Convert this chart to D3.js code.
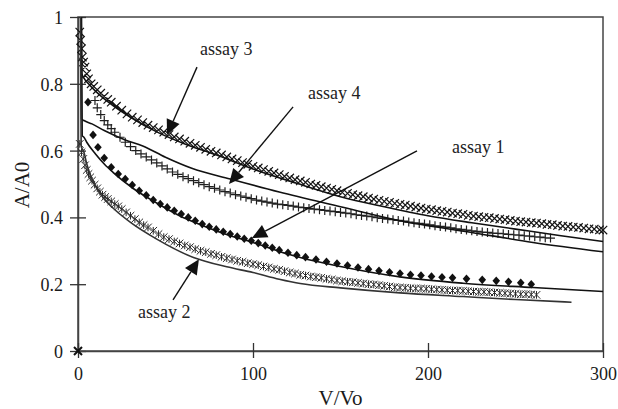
<!DOCTYPE html>
<html><head><meta charset="utf-8">
<script src="https://cdn.jsdelivr.net/npm/d3@7"></script>
<style>body{margin:0;background:#fff}svg{display:block}</style>
</head><body>
<svg id="c" width="618" height="409"></svg>
<script>
// ---- data ----
const xTicks = [0, 100, 200, 300];
const yTicks = [0, 0.2, 0.4, 0.6, 0.8, 1];
const yTickLabels = ["0", "0.2", "0.4", "0.6", "0.8", "1"];

// assay 3 (x markers)
const a3V = [1,1.5,2,2.5,3.2,4,5,6,7.5,9,11,13,15,17,19,22,25,28,31,34,37,40,43,46,49,52,55,58,61,64,67,70,73,76,79,82,85,88,91,94,97,100,103,106,109,112,115,118,121,124,127,130,133,136,139,142,145,148,151,154,157,160,163,166,169,172,175,178,181,184,187,190,193,196,199,202,205,208,211,214,217,220,223,226,229,232,235,238,241,244,247,250,253,256,259,262,265,268,271,274,277,280,283,286,289,292,295,298,300];
const a3A = [0.955,0.93,0.905,0.88,0.865,0.85,0.83,0.815,0.80,0.792,0.782,0.772,0.762,0.753,0.745,0.733,0.721,0.71,0.70,0.692,0.684,0.676,0.669,0.662,0.655,0.648,0.641,0.635,0.628,0.622,0.616,0.61,0.604,0.598,0.593,0.587,0.581,0.575,0.57,0.564,0.559,0.553,0.548,0.543,0.538,0.533,0.528,0.523,0.518,0.513,0.509,0.505,0.50,0.496,0.492,0.488,0.484,0.48,0.475,0.472,0.468,0.465,0.462,0.458,0.455,0.451,0.448,0.445,0.442,0.439,0.437,0.434,0.431,0.428,0.425,0.423,0.42,0.418,0.416,0.413,0.411,0.409,0.406,0.404,0.402,0.40,0.399,0.397,0.395,0.393,0.391,0.389,0.387,0.386,0.384,0.383,0.381,0.379,0.378,0.376,0.374,0.373,0.371,0.37,0.368,0.366,0.365,0.363,0.362];

// assay 4 (+ markers)
const a4V = [9.7,11,13,15,17,19,21,24,27,30,33,36,39,42,45,48,51,54,57,60,63,66,69,72,75,78,81,84,87,90,93,96,99,102,105,108,111,114,117,120,123,126,129,132,135,138,141,144,147,150,153,156,159,162,165,168,171,174,177,180,183,186,189,192,195,198,201,204,207,210,213,216,219,222,225,228,231,234,237,240,243,246,249,252,255,258,261,264,267,270];
const a4A = [0.75,0.728,0.708,0.69,0.677,0.666,0.655,0.64,0.625,0.612,0.60,0.59,0.581,0.572,0.563,0.554,0.545,0.536,0.529,0.522,0.516,0.51,0.504,0.498,0.492,0.487,0.482,0.477,0.473,0.468,0.464,0.46,0.456,0.452,0.449,0.446,0.443,0.44,0.438,0.436,0.434,0.431,0.429,0.427,0.425,0.423,0.421,0.419,0.417,0.415,0.413,0.411,0.408,0.406,0.404,0.402,0.399,0.397,0.395,0.393,0.391,0.389,0.386,0.384,0.382,0.38,0.378,0.375,0.373,0.371,0.369,0.366,0.364,0.362,0.36,0.358,0.356,0.355,0.353,0.352,0.351,0.349,0.348,0.347,0.345,0.344,0.342,0.341,0.339,0.338];

// assay 1 (filled diamonds)
const a1V = [5.7,8.6,11.4,15,19,23,27,31,35,39,43,47,51,55,59,63,67,71,75,79,83,87,91,95,99,103,107,111,115,120,125,130,136,142,148,154,160,166,172,178,184,190,196,202,208,214,222,231,239,246,253,259];
const a1A = [0.745,0.647,0.61,0.578,0.55,0.53,0.515,0.497,0.48,0.466,0.452,0.44,0.43,0.42,0.41,0.40,0.39,0.38,0.372,0.364,0.357,0.35,0.343,0.336,0.33,0.323,0.316,0.309,0.302,0.294,0.287,0.281,0.274,0.267,0.262,0.256,0.25,0.245,0.24,0.236,0.232,0.228,0.226,0.223,0.221,0.219,0.216,0.213,0.21,0.207,0.204,0.20];

// assay 2 (asterisk markers)
const a2V = [1,2,3,4,5,6,7,8,9.5,11,12.5,14,15.5,17,19,21,23,25,27.5,30,32.5,35,37.5,40,43,46,49,52,55,58,61,64,67,70,73,76,79,82,85,88,91,94,97,100,103,106,109,112,115,118,121,124,127,130,133,136,139,142,145,148,151,154,157,160,163,166,169,172,175,178,181,184,187,190,193,196,199,202,205,208,211,214,217,220,223,226,229,232,235,238,241,244,247,250,253,256,259,262];
const a2A = [0.62,0.595,0.575,0.556,0.542,0.53,0.52,0.51,0.498,0.487,0.477,0.468,0.461,0.455,0.448,0.44,0.433,0.425,0.415,0.405,0.395,0.385,0.377,0.37,0.36,0.35,0.341,0.335,0.328,0.322,0.316,0.311,0.305,0.30,0.296,0.291,0.287,0.282,0.278,0.274,0.27,0.267,0.263,0.26,0.257,0.253,0.25,0.246,0.243,0.239,0.235,0.232,0.228,0.226,0.223,0.221,0.219,0.216,0.214,0.211,0.209,0.207,0.206,0.204,0.202,0.20,0.199,0.197,0.195,0.193,0.191,0.19,0.189,0.188,0.187,0.187,0.186,0.185,0.184,0.183,0.182,0.181,0.181,0.18,0.179,0.178,0.177,0.177,0.176,0.175,0.174,0.173,0.172,0.171,0.17,0.17,0.169,0.168];

// point at the origin
const originV = [0];
const originA = [0];

// fitted curves (solid lines)
const fit3V = [1.8,2.2,3.4,6,10,15,20,30,45,60,80,100,125,150,175,200,225,250,275,300];
const fit3A = [1.0,0.83,0.817,0.80,0.778,0.755,0.735,0.70,0.656,0.622,0.585,0.545,0.502,0.462,0.432,0.405,0.384,0.365,0.346,0.328];
const fit4V = [1.6,2.0,3.4,8,15,27,37,50,65,87,115,150,184,225,260,300];
const fit4A = [1.0,0.695,0.69,0.68,0.66,0.632,0.614,0.58,0.547,0.515,0.476,0.432,0.39,0.355,0.325,0.297];
const fit1V = [2.0,2.4,3.4,5,10,15,20,32,45,58,70,87,100,115,127,150,184,220,260,300];
const fit1A = [1.0,0.645,0.64,0.625,0.59,0.56,0.535,0.485,0.443,0.405,0.378,0.345,0.325,0.298,0.28,0.253,0.222,0.203,0.19,0.178];
const fit2V = [1.4,1.8,3.4,5,8,11,15,20,30,45,66,85,100,115,127,150,184,220,250,282];
const fit2A = [1.0,0.615,0.595,0.56,0.515,0.485,0.455,0.428,0.385,0.335,0.28,0.252,0.235,0.215,0.202,0.189,0.174,0.163,0.154,0.146];

// annotations: label, label anchor (V, A), arrow start (V, A), arrow tip (V, A)
const annLabels = ["assay 3", "assay 4", "assay 1", "assay 2"];
const annTextV = [69.7, 131.4, 213.7, 34.3];
const annTextA = [0.886, 0.754, 0.593, 0.099];
const annFromV = [68, 122.9, 193.7, 54.3];
const annFromA = [0.850, 0.731, 0.599, 0.153];
const annTipV = [50.9, 86.3, 99.4, 69.1];
const annTipA = [0.647, 0.50, 0.338, 0.275];

// ---- drawing ----
const svg = d3.select("#c");
svg.append("rect").attr("width", 618).attr("height", 409).attr("fill", "#fff");
const L = 78, R = 603, T = 17, B = 351;
const x = d3.scaleLinear().domain([0, 300]).range([L, R]);
const y = d3.scaleLinear().domain([0, 1]).range([B, T]);
const font = "'Liberation Serif', 'Times New Roman', serif";
const ink = "#1a1a1a";

// frame
svg.append("rect").attr("x", L).attr("y", T).attr("width", R - L).attr("height", B - T)
  .attr("fill", "none").attr("stroke", "#444").attr("stroke-width", 1.5);

// axes with ticks crossing the axis line
const yAx = svg.append("g").attr("transform", `translate(${L},0)`)
  .call(d3.axisLeft(y).tickValues(yTicks).tickSizeInner(8).tickSizeOuter(0)
    .tickFormat((d, i) => yTickLabels[i]).tickPadding(7));
yAx.select(".domain").attr("stroke", "#444").attr("stroke-width", 1.5);
yAx.selectAll(".tick line").attr("stroke", "#333").attr("stroke-width", 1.3).attr("x2", 8).attr("x1", -8);
yAx.selectAll(".tick text").attr("font-family", font).attr("font-size", 18).attr("fill", ink)
  .attr("x", -15).attr("dy", "0.36em");

const xAx = svg.append("g").attr("transform", `translate(0,${B})`)
  .call(d3.axisBottom(x).tickValues(xTicks).tickSizeInner(8).tickSizeOuter(0).tickFormat(d3.format("d")));
xAx.select(".domain").attr("stroke", "#444").attr("stroke-width", 1.5);
xAx.selectAll(".tick line").attr("stroke", "#333").attr("stroke-width", 1.3).attr("y1", -8).attr("y2", 7);
xAx.selectAll(".tick text").attr("font-family", font).attr("font-size", 18).attr("fill", ink)
  .attr("y", 16).attr("dy", "0.71em");

// axis titles
svg.append("text").attr("x", (L + R) / 2).attr("y", 405).attr("text-anchor", "middle")
  .attr("font-family", font).attr("font-size", 21).attr("fill", ink).text("V/Vo");
svg.append("text").attr("transform", `translate(29,${(T + B) / 2 + 1}) rotate(-90)`)
  .attr("text-anchor", "middle").attr("font-family", font).attr("font-size", 21).attr("fill", ink).text("A/A0");

const zip = (vs, as) => vs.map((v, i) => [v, as[i]]);
const line = d3.line().x(d => x(d[0])).y(d => y(d[1])).curve(d3.curveMonotoneX);

// markers
const gm = svg.append("g");
// assay 2: asterisk-like crosses (dark grey band)
gm.append("path").attr("fill", "none").attr("stroke", "#2a2a2a").attr("stroke-width", 1.0)
  .attr("d", zip(a2V, a2A).map(d => {
    const cx = x(d[0]), cy = y(d[1]), s = 3.8;
    return `M${cx - s},${cy - s}L${cx + s},${cy + s}M${cx - s},${cy + s}L${cx + s},${cy - s}M${cx},${cy - s}L${cx},${cy + s}`;
  }).join(""));
// assay 1: diamonds
gm.selectAll("path.dm").data(zip(a1V, a1A)).join("path").attr("class", "dm")
  .attr("transform", d => `translate(${x(d[0])},${y(d[1])})`)
  .attr("d", "M0,-4.3L3.8,0L0,4.3L-3.8,0Z").attr("fill", "#111");
// assay 4: plus
gm.append("path").attr("fill", "none").attr("stroke", "#1f1f1f").attr("stroke-width", 1.2)
  .attr("d", zip(a4V, a4A).map(d => {
    const cx = x(d[0]), cy = y(d[1]), s = 4.5;
    return `M${cx - s},${cy}L${cx + s},${cy}M${cx},${cy - s}L${cx},${cy + s}`;
  }).join(""));
// assay 3: x
gm.append("path").attr("fill", "none").attr("stroke", "#141414").attr("stroke-width", 1.2)
  .attr("d", zip(a3V, a3A).map(d => {
    const cx = x(d[0]), cy = y(d[1]), s = 4.2;
    return `M${cx - s},${cy - s}L${cx + s},${cy + s}M${cx - s},${cy + s}L${cx + s},${cy - s}`;
  }).join(""));
// origin point
gm.append("path").attr("fill", "none").attr("stroke", "#111").attr("stroke-width", 2)
  .attr("d", zip(originV, originA).map(d => {
    const cx = x(d[0]), cy = y(d[1]), s = 4;
    return `M${cx - s},${cy - s}L${cx + s},${cy + s}M${cx - s},${cy + s}L${cx + s},${cy - s}`;
  }).join(""));

// fitted lines
[[fit3V, fit3A, "#111"], [fit4V, fit4A, "#111"], [fit1V, fit1A, "#111"], [fit2V, fit2A, "#333"]].forEach(f => {
  svg.append("path").attr("d", line(zip(f[0], f[1]))).attr("fill", "none")
    .attr("stroke", f[2]).attr("stroke-width", 1.6);
});

// annotations
annLabels.forEach((lab, i) => {
  svg.append("text").attr("x", x(annTextV[i])).attr("y", y(annTextA[i]))
    .attr("font-family", font).attr("font-size", 18).attr("fill", "#222").text(lab);
  const x0 = x(annFromV[i]), y0 = y(annFromA[i]), x1 = x(annTipV[i]), y1 = y(annTipA[i]);
  const ang = Math.atan2(y1 - y0, x1 - x0);
  const hl = 15, hw = 7;
  const bx = x1 - hl * Math.cos(ang), by = y1 - hl * Math.sin(ang);
  svg.append("line").attr("x1", x0).attr("y1", y0).attr("x2", bx).attr("y2", by)
    .attr("stroke", "#111").attr("stroke-width", 1.4);
  const px = -Math.sin(ang), py = Math.cos(ang);
  svg.append("path").attr("d", `M${x1},${y1}L${bx + hw * px},${by + hw * py}L${bx - hw * px},${by - hw * py}Z`)
    .attr("fill", "#111");
});
</script>
</body></html>
